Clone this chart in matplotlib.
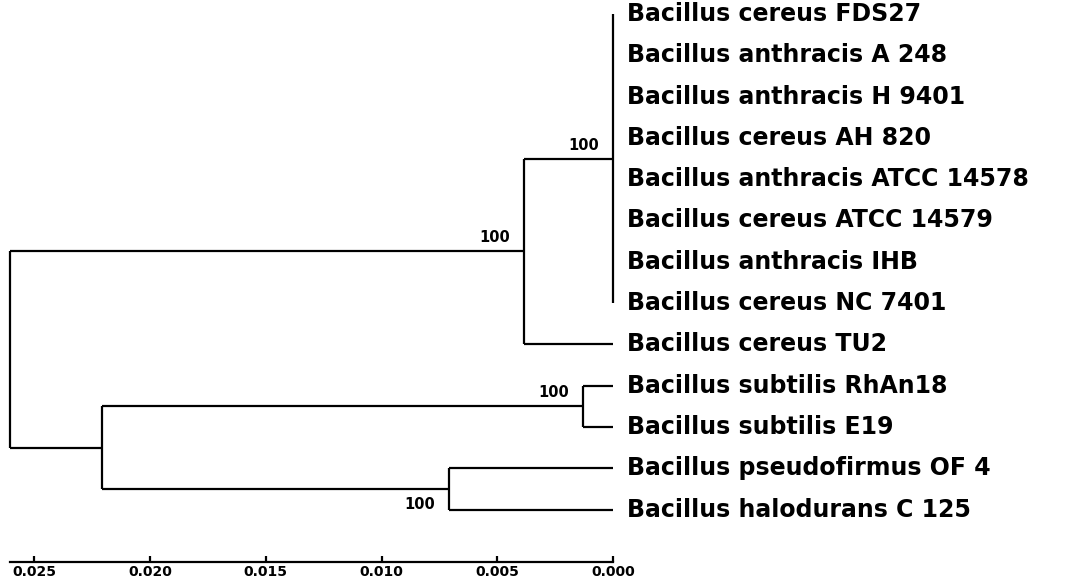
import matplotlib.pyplot as plt

# tips, top to bottom
leaf_names = [
    "Bacillus cereus FDS27",
    "Bacillus anthracis A 248",
    "Bacillus anthracis H 9401",
    "Bacillus cereus AH 820",
    "Bacillus anthracis ATCC 14578",
    "Bacillus cereus ATCC 14579",
    "Bacillus anthracis IHB",
    "Bacillus cereus NC 7401",
    "Bacillus cereus TU2",
    "Bacillus subtilis RhAn18",
    "Bacillus subtilis E19",
    "Bacillus pseudofirmus OF 4",
    "Bacillus halodurans C 125",
]
tip_height = 0.0

# internal nodes (children listed before parents), heights = distance from tips
clade_names = ["cereus_core", "cereus_all", "subtilis", "alkaliphiles", "others", "root"]
clade_children = [
    leaf_names[0:8],
    ["cereus_core", "Bacillus cereus TU2"],
    ["Bacillus subtilis RhAn18", "Bacillus subtilis E19"],
    ["Bacillus pseudofirmus OF 4", "Bacillus halodurans C 125"],
    ["subtilis", "alkaliphiles"],
    ["cereus_all", "others"],
]
clade_heights = [0.0, 0.00384, 0.0013, 0.00708, 0.02207, 0.02605]
clade_support = [100, 100, 100, 100, None, None]

scale_ticks = [0.025, 0.020, 0.015, 0.010, 0.005, 0.000]
scale_labels = ["0.025", "0.020", "0.015", "0.010", "0.005", "0.000"]

fig = plt.figure(figsize=(10.89, 5.81), dpi=100)
ax = fig.add_axes([0, 0, 1, 1])

ypos = {name: i for i, name in enumerate(leaf_names)}
xpos = {name: tip_height for name in leaf_names}
for name, kids, h in zip(clade_names, clade_children, clade_heights):
    ys = [ypos[k] for k in kids]
    ypos[name] = (min(ys) + max(ys)) / 2
    xpos[name] = h

lw = 1.6
for name, kids, h, sup in zip(clade_names, clade_children, clade_heights, clade_support):
    ys = [ypos[k] for k in kids]
    ax.plot([h, h], [min(ys), max(ys)], color="black", lw=lw, solid_capstyle="butt")
    for k in kids:
        ax.plot([h, xpos[k]], [ypos[k], ypos[k]], color="black", lw=lw, solid_capstyle="butt")
    if sup is not None:
        below = name == "alkaliphiles"
        ax.annotate(str(sup), (h, ypos[name]),
                    xytext=(-14, -8 if below else 6), textcoords="offset pixels",
                    ha="right", va="top" if below else "bottom",
                    fontsize=10.5, fontweight="bold")

for name in leaf_names:
    ax.annotate(name, (xpos[name], ypos[name]), xytext=(14, 0),
                textcoords="offset pixels", ha="left", va="center",
                fontsize=17, fontweight="bold")

# px -> data: x = (613 - px) / 23150, y = (py - 14) / 41.3
ax.set_xlim(613 / 23150, (613 - 1089) / 23150)
ax.set_ylim((581 - 14) / 41.3, -14 / 41.3)

for side in ["top", "right", "left"]:
    ax.spines[side].set_visible(False)
ax.spines["bottom"].set_position(("data", (562 - 14) / 41.3))
ax.spines["bottom"].set_bounds(0.0, clade_heights[-1])
ax.spines["bottom"].set_linewidth(lw)
ax.set_xticks(scale_ticks)
ax.set_xticklabels(scale_labels, fontsize=10, fontweight="bold")
ax.tick_params(axis="x", direction="in", length=4, width=lw, pad=2)
ax.set_yticks([])
ax.patch.set_visible(False)

fig.savefig("out.png", dpi=100)
